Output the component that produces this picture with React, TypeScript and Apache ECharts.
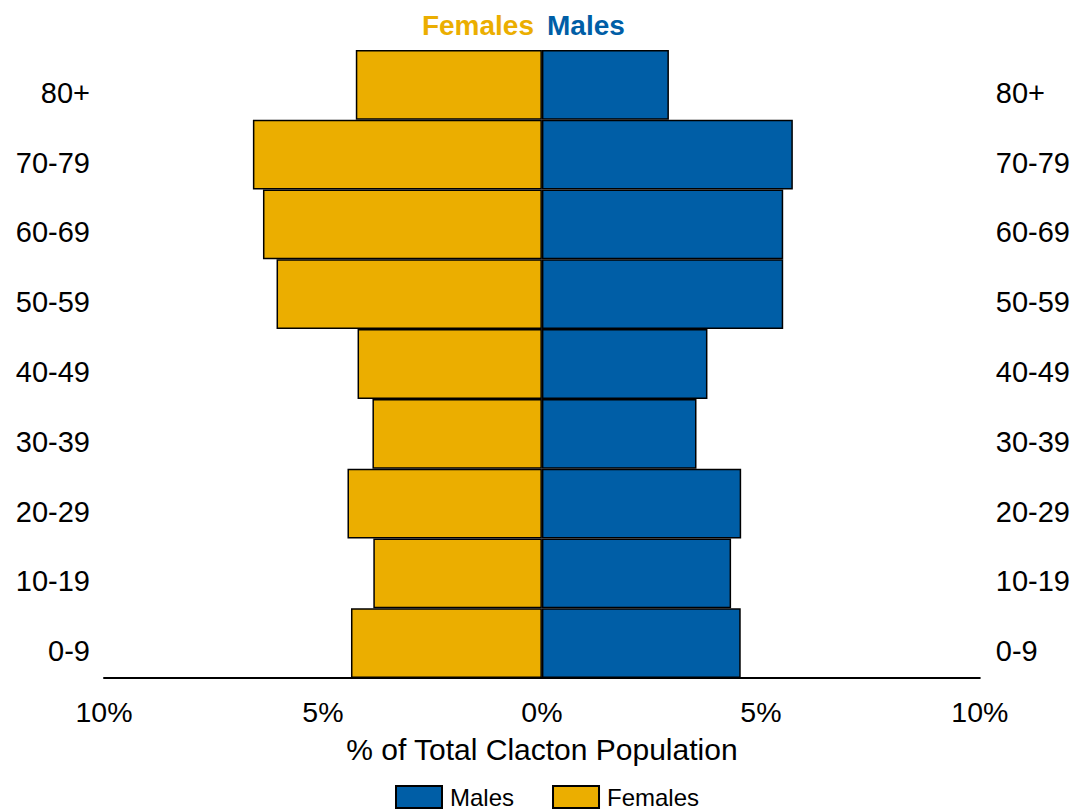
import React, { useEffect, useRef } from "react";
import * as echarts from "echarts";

const categories = ["0-9", "10-19", "20-29", "30-39", "40-49", "50-59", "60-69", "70-79", "80+"];
const males = [4.54, 4.32, 4.55, 3.53, 3.78, 5.51, 5.51, 5.73, 2.9];
const females = [4.36, 3.85, 4.44, 3.87, 4.21, 6.06, 6.37, 6.6, 4.25];
const xTicks = { min: -10, max: 10, interval: 5 };

const BLUE = "#005EA6";
const GOLD = "#EBAE00";
const FONT = "Liberation Sans, Arial, Helvetica, sans-serif";

export default function App() {
  const ref = useRef<HTMLDivElement>(null);
  useEffect(() => {
    if (!ref.current) return;
    const chart = echarts.init(ref.current, undefined, { renderer: "svg" });
    chart.setOption({
      animation: false,
      backgroundColor: "#ffffff",
      textStyle: { fontFamily: FONT },
      grid: { left: 104, right: 92, top: 50, bottom: 131, containLabel: false },
      graphic: [
        {
          type: "text",
          x: 534,
          y: 25,
          style: {
            text: "Females",
            fill: GOLD,
            font: `bold 28px ${FONT}`,
            align: "right",
            verticalAlign: "middle",
          },
        },
        {
          type: "text",
          x: 547,
          y: 25,
          style: {
            text: "Males",
            fill: BLUE,
            font: `bold 28px ${FONT}`,
            align: "left",
            verticalAlign: "middle",
          },
        },
      ],
      legend: {
        data: ["Males", "Females"],
        left: 395,
        top: 785,
        padding: 0,
        icon: "rect",
        itemWidth: 46,
        itemHeight: 22,
        itemGap: 38,
        textStyle: { fontSize: 24, color: "#000", fontFamily: FONT, padding: [0, 0, 0, 3] },
      },
      xAxis: {
        type: "value",
        min: xTicks.min,
        max: xTicks.max,
        interval: xTicks.interval,
        name: "% of Total Clacton Population",
        nameLocation: "middle",
        nameGap: 56,
        nameTextStyle: { fontSize: 30, color: "#000", fontFamily: FONT },
        axisLine: { show: true, lineStyle: { color: "#000", width: 2 } },
        axisTick: { show: false },
        splitLine: { show: false },
        axisLabel: {
          fontSize: 28.5,
          color: "#000",
          fontFamily: FONT,
          margin: 19,
          formatter: (v: number) => `${Math.abs(v)}%`,
        },
      },
      yAxis: [
        {
          type: "category",
          data: categories,
          position: "left",
          axisLine: { show: false },
          axisTick: { show: false },
          axisLabel: {
            fontSize: 29,
            color: "#000",
            fontFamily: FONT,
            margin: 14,
            verticalAlign: "top",
            lineHeight: 16,
          },
        },
        {
          type: "category",
          data: categories,
          position: "right",
          axisLine: { show: false },
          axisTick: { show: false },
          axisLabel: {
            fontSize: 29,
            color: "#000",
            fontFamily: FONT,
            margin: 16,
            verticalAlign: "top",
            lineHeight: 16,
          },
        },
      ],
      series: [
        {
          name: "Males",
          type: "bar",
          stack: "pop",
          data: males,
          barWidth: "100%",
          barCategoryGap: "0%",
          itemStyle: { color: BLUE, borderColor: "#000", borderWidth: 1.5 },
        },
        {
          name: "Females",
          type: "bar",
          stack: "pop",
          data: females.map((v) => -v),
          barWidth: "100%",
          barCategoryGap: "0%",
          itemStyle: { color: GOLD, borderColor: "#000", borderWidth: 1.5 },
        },
      ],
    });
    return () => chart.dispose();
  }, []);
  return <div ref={ref} style={{ width: 1073, height: 809, position: "absolute", left: 0, top: 0 }} />;
}
